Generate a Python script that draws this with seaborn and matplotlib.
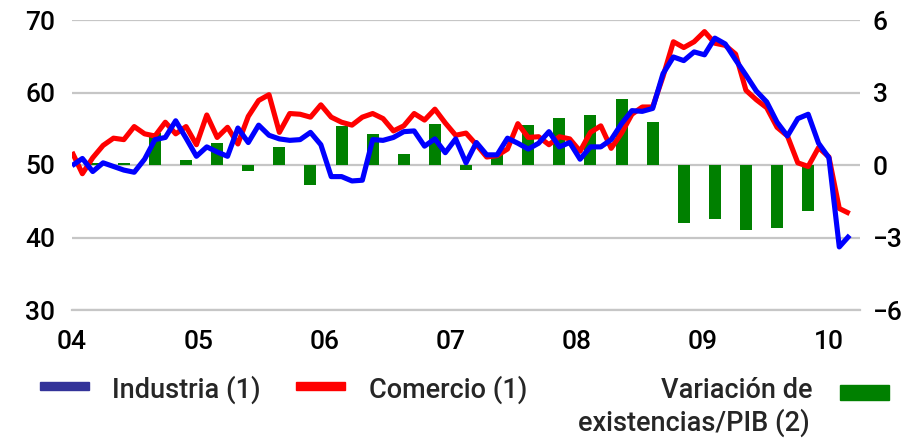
import numpy as np
import pandas as pd
import matplotlib
matplotlib.use("Agg")
import matplotlib.pyplot as plt
from matplotlib.patches import Rectangle
import seaborn as sns

# Confidence indicators (left scale), monthly from January 2004
industria = [
    49.9, 50.9, 49.1, 50.3, 49.8, 49.3, 49.0, 50.8, 53.5, 53.8, 56.1, 53.7,
    51.2, 52.5, 51.8, 51.2, 55.1, 53.1, 55.5, 54.1, 53.6, 53.4, 53.5, 54.5,
    52.8, 48.4, 48.4, 47.8, 47.9, 53.5, 53.4, 53.8, 54.6, 54.7, 52.6, 53.6,
    51.7, 53.6, 50.3, 53.1, 51.4, 51.4, 53.7, 53.0, 52.2, 53.0, 54.6, 52.5,
    53.1, 50.8, 52.5, 52.5, 53.5, 55.7, 57.5, 57.4, 57.8, 62.6, 64.9, 64.4,
    65.6, 65.2, 67.5, 66.7, 64.5, 62.4, 60.2, 58.7, 55.9, 54.0, 56.4, 57.0,
    53.0, 51.0, 38.7, 40.3,
]
comercio = [
    51.8, 48.8, 51.0, 52.7, 53.7, 53.5, 55.3, 54.3, 54.0, 55.9, 54.3, 55.3,
    52.8, 56.9, 53.8, 55.2, 52.9, 56.7, 58.9, 59.7, 54.5, 57.1, 57.0, 56.6,
    58.3, 56.6, 55.9, 55.5, 56.6, 57.1, 56.4, 54.7, 55.4, 57.1, 56.2, 57.7,
    55.8, 54.1, 54.4, 52.8, 51.1, 51.3, 52.2, 55.7, 53.8, 53.9, 52.8, 53.9,
    53.6, 51.9, 54.5, 55.4, 52.3, 54.4, 57.0, 58.0, 58.0, 62.2, 67.0, 66.2,
    67.0, 68.4, 66.8, 66.5, 65.3, 60.3, 59.0, 57.9, 55.2, 54.0, 50.3, 49.8,
    52.4, 51.1, 44.0, 43.3,
]
# Change in inventories over GDP (right scale), quarterly 2004 Q1 - 2009 Q4
existencias = [
    0.1, 0.1, 1.31, 0.21, 0.93, -0.24, 0.76, -0.83, 1.62, 1.29, 0.46, 1.70,
    -0.21, 0.45, 1.66, 1.95, 2.07, 2.74, 1.78, -2.39, -2.23, -2.70, -2.61, -1.90,
]

year_ticks = [2004, 2005, 2006, 2007, 2008, 2009, 2010]
year_labels = ["04", "05", "06", "07", "08", "09", "10"]
left_ticks = [30, 40, 50, 60, 70]
right_ticks = [-6, -3, 0, 3, 6]

# time position of each monthly observation on the year axis
periodo = 2004 + np.arange(len(industria)) * 0.08216
# quarterly bars sit on the last month of each quarter
periodo_q = periodo[2:2 + 3 * len(existencias):3]

lines_df = pd.DataFrame({"t": periodo, "Industria": industria, "Comercio": comercio})
bars_df = pd.DataFrame({"t": periodo_q, "v": existencias})

sns.set_style("white")
plt.rcParams["font.family"] = ["Roboto", "Liberation Sans", "DejaVu Sans"]
plt.rcParams["font.weight"] = "medium"
plt.rcParams["axes.unicode_minus"] = True

W, H = 922, 438
fig = plt.figure(figsize=(W / 100, H / 100), dpi=100)


def fx(x):
    return x / W


def fy(y):
    return 1 - y / H


ax = fig.add_axes([fx(72), fy(310), (860 - 72) / W, (310 - 20) / H])
ax2 = ax.twinx()

GRID = "#c6c6c6"

# bars on the secondary (right) axis, drawn beneath the lines
sns.barplot(data=bars_df, x="t", y="v", native_scale=True, width=0.385,
            color="#008000", saturation=1, errorbar=None, linewidth=0, ax=ax2)
ax2.set_ylim(-6, 6)
ax2.set_yticks(right_ticks)
ax2.set_yticklabels([f"{v}".replace("-", "\u2212") for v in right_ticks])
ax2.tick_params(axis="y", length=0, pad=9, labelsize=19, labelcolor="black")
ax2.yaxis.grid(True, color=GRID, linewidth=1.6)
ax2.set_axisbelow(True)
ax2.set_ylabel("")
ax2.set_xlabel("")

# lines on the primary (left) axis
sns.lineplot(data=lines_df, x="t", y="Comercio", color="#ff0000",
             linewidth=3.7, sort=False, ax=ax)
sns.lineplot(data=lines_df, x="t", y="Industria", color="#0000ff",
             linewidth=3.7, sort=False, ax=ax)
for ln in ax.lines:
    ln.set_solid_joinstyle("round")
    ln.set_solid_capstyle("butt")

ax.set_ylim(30, 70)
ax.set_yticks(left_ticks)
ax.tick_params(axis="y", length=0, pad=12, labelsize=19, labelcolor="black")
ax.set_xlim(2004.0, 2010.244)
ax.set_xticks(year_ticks)
ax.set_xticklabels(year_labels)
ax.tick_params(axis="x", direction="out", length=4.5, width=1.5, color=GRID,
               pad=10, labelsize=19, labelcolor="black")
ax.set_xlabel("")
ax.set_ylabel("")

ax.set_zorder(ax2.get_zorder() + 1)
ax.patch.set_visible(False)

for a in (ax, ax2):
    for side in ("top", "left", "right"):
        a.spines[side].set_visible(False)
ax2.spines["bottom"].set_visible(False)
ax.spines["bottom"].set_color(GRID)
ax.spines["bottom"].set_linewidth(1.6)

# legend
fs = 19.5
fig.add_artist(Rectangle((fx(40), fy(390)), 49 / W, 8 / H, color="#333399",
                         transform=fig.transFigure))
fig.text(fx(112), fy(398), "Industria (1)", fontsize=fs, va="baseline", ha="left")
fig.add_artist(Rectangle((fx(296), fy(390)), 49 / W, 8 / H, color="#ff0000",
                         transform=fig.transFigure))
fig.text(fx(369), fy(398), "Comercio (1)", fontsize=fs, va="baseline", ha="left")
fig.text(fx(812), fy(398), "Variación de", fontsize=fs, va="baseline", ha="right")
fig.text(fx(810), fy(431), "existencias/PIB (2)", fontsize=fs, va="baseline", ha="right")
fig.add_artist(Rectangle((fx(840), fy(400)), 49 / W, 15 / H, color="#008000",
                         transform=fig.transFigure))

fig.savefig("out.png", dpi=100)
